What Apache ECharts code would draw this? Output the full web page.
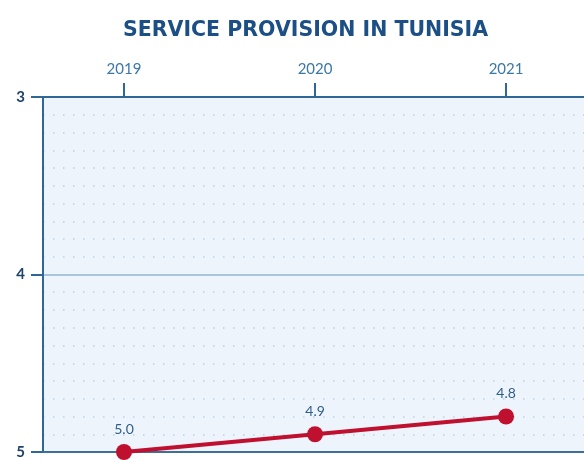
<!DOCTYPE html>
<html><head><meta charset="utf-8">
<script src="https://cdn.jsdelivr.net/npm/echarts@6/dist/echarts.min.js"></script>
<style>html,body{margin:0;padding:0;background:#fff}#c{width:584px;height:460px}</style>
</head><body><div id="c"></div>
<script>
const title = 'SERVICE PROVISION IN TUNISIA';
const years = [2019, 2020, 2021];
const values = [5.0, 4.9, 4.8];
const yTicks = [3, 4, 5];

const chart = echarts.init(document.getElementById('c'), null, {renderer: 'canvas'});
chart.setOption({
  animation: false,
  title: {text: title, left: 118, top: 15,
    textStyle: {fontFamily: 'DejaVu Sans', fontWeight: 'bold', fontSize: 20.5, color: '#1c4f86'}},
  grid: {left: 43, top: 97, right: 0, bottom: 8, show: true, backgroundColor: '#eef4fb', borderWidth: 0, containLabel: false},
  xAxis: [{
    type: 'value', position: 'top', min: 2018.576, max: 2021.408,
    axisLine: {show: true, onZero: false, lineStyle: {color: '#2f6796', width: 2}},
    axisTick: {show: true, customValues: years, length: 14, lineStyle: {color: '#2f6796', width: 2}},
    axisLabel: {customValues: years, formatter: v => String(v), color: '#3a78aa', fontFamily: 'Lato', fontSize: 15, margin: 20},
    splitLine: {show: false}
  }, {
    type: 'value', position: 'bottom', min: 2018.576, max: 2021.408,
    axisLine: {show: true, onZero: false, lineStyle: {color: '#3e6f98', width: 2}},
    axisTick: {show: false}, axisLabel: {show: false}, splitLine: {show: false}
  }],
  yAxis: {
    type: 'value', inverse: true, min: 3, max: 5, interval: 1,
    axisLine: {show: true, lineStyle: {color: '#2f6796', width: 2}},
    axisTick: {show: true, length: 12, lineStyle: {color: '#2f6796', width: 2}},
    axisLabel: {color: '#1f416a', fontFamily: 'Lato', fontWeight: 'bold', fontSize: 15, margin: 18,
      formatter: v => yTicks.includes(v) ? String(v) : ''},
    splitLine: {show: true, lineStyle: {color: '#a9c6df', width: 2}},
    minorTick: {show: false, splitNumber: 10},
    minorSplitLine: {show: true, lineStyle: {color: '#bccfe2', type: [1.5, 8.5], width: 1.5}}
  },
  series: [{
    type: 'line',
    data: years.map((y, i) => [y, values[i]]),
    lineStyle: {color: '#c0102f', width: 4},
    itemStyle: {color: '#c0102f'},
    symbol: 'circle', symbolSize: 16,
    clip: false,
    label: {show: true, position: 'top', distance: 8, formatter: p => p.value[1].toFixed(1),
      color: '#2f5f8c', fontFamily: 'Lato', fontSize: 14}
  }]
});
</script></body></html>
